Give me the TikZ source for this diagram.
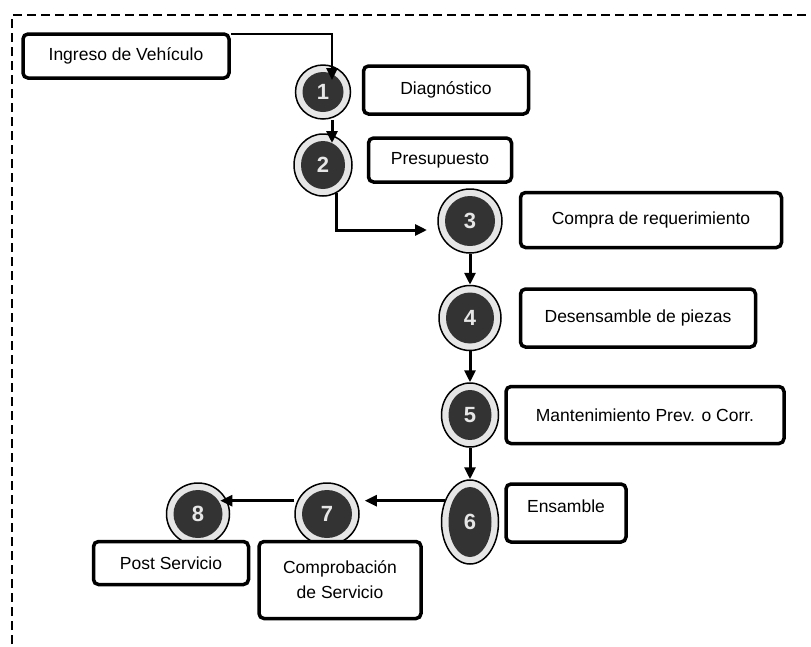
\documentclass[tikz,border=0pt]{standalone}
\usepackage{fontspec}
\setmainfont{Liberation Sans}
\usetikzlibrary{math,calc,shapes.geometric,arrows.meta}

\definecolor{diskgray}{HTML}{333333}
\definecolor{ringgray}{HTML}{E6E6E6}

\tikzset{
  box/.style={draw, line width=3.5pt, rounded corners=5pt, fill=white, inner sep=2pt,
    align=center, font=\fontsize{17.5}{25}\selectfont},
  stepdisk/.style 2 args={ellipse, draw, line width=1.5pt, fill=ringgray, inner sep=0pt,
    minimum width=#1, minimum height=#2, text=ringgray, font=\fontsize{22}{22}\selectfont\bfseries,
    path picture={\fill[diskgray] (path picture bounding box.center)
      ellipse [x radius=(#1/2-7)*1pt, y radius=(#2/2-7)*1pt];}},
  flow/.style={line width=3pt, -{Triangle[length=12pt,width=11pt]}},
}

\begin{document}
\begin{tikzpicture}[x=1pt, y=-1pt]
  \tikzmath{%
    \colA = 323; \colB = 470;
  }
  \useasboundingbox (0,0) rectangle (811,646);

  \draw[line width=2.5pt, dash pattern=on 9pt off 5pt] (12,700) |- (900,15);

  % steps
  \node[stepdisk={55}{54}] (c1) at (\colA,92) {1};
  \node[stepdisk={58}{62}] (c2) at (\colA,165) {2};
  \node[stepdisk={64}{64}] (c3) at (\colB,221) {3};
  \node[stepdisk={62}{65}] (c4) at (\colB,318) {4};
  \node[stepdisk={57}{64}] (c5) at (\colB,415) {5};
  \node[stepdisk={57}{84}] (c6) at (\colB,522) {6};
  \node[stepdisk={64}{62}] (c7) at (327,514) {7};
  \node[stepdisk={63}{62}] (c8) at (198,514) {8};

  % labels
  \node[box, minimum width=206, minimum height=44] (ingreso) at (126,56) {Ingreso de Vehículo};
  \node[box, minimum width=165, minimum height=48] (diag) at (446,90) {Diagnóstico};
  \node[box, minimum width=143, minimum height=44] (presu) at (440,160) {Presupuesto};
  \node[box, minimum width=261, minimum height=55] (compra) at (651,220) {Compra de requerimiento};
  \node[box, minimum width=235, minimum height=58] (desens) at (638,318) {Desensamble de piezas};
  \node[box, minimum width=278, minimum height=57] (mant) at (645,415) {Mantenimiento Prev. o Corr.};
  \node[box, minimum width=120, minimum height=58, text depth=14pt] (ensam) at (566,513) {Ensamble};
  \node[box, minimum width=162, minimum height=77] (comprob) at (340,580) {Comprobación\\de Servicio};
  \node[box, minimum width=155, minimum height=43] (post) at (171,563) {Post Servicio};

  % flow
  \draw[flow, line width=2.5pt] ([yshift=-1.5pt]ingreso.north east) -| ($(c1.center)+(9,-12)$);
  \draw[flow] ([xshift=9pt]c1.south) -- ($(c2.center)+(9,-22)$);
  \draw[flow] (c2.-65) |- ($(c3.center)+(-43,9)$);
  \draw[flow] (c3) -- (c4);
  \draw[flow] (c4) -- (c5);
  \draw[flow] (c5) -- (c6);
  \draw[flow, line width=2.5pt] (c6.140) -- ([xshift=5pt]c6.140 -| c7.east);
  \draw[flow, line width=2.5pt] (c7.west |- c6.140) -- ([xshift=-10pt]c6.140 -| c8.east);
\end{tikzpicture}
\end{document}
